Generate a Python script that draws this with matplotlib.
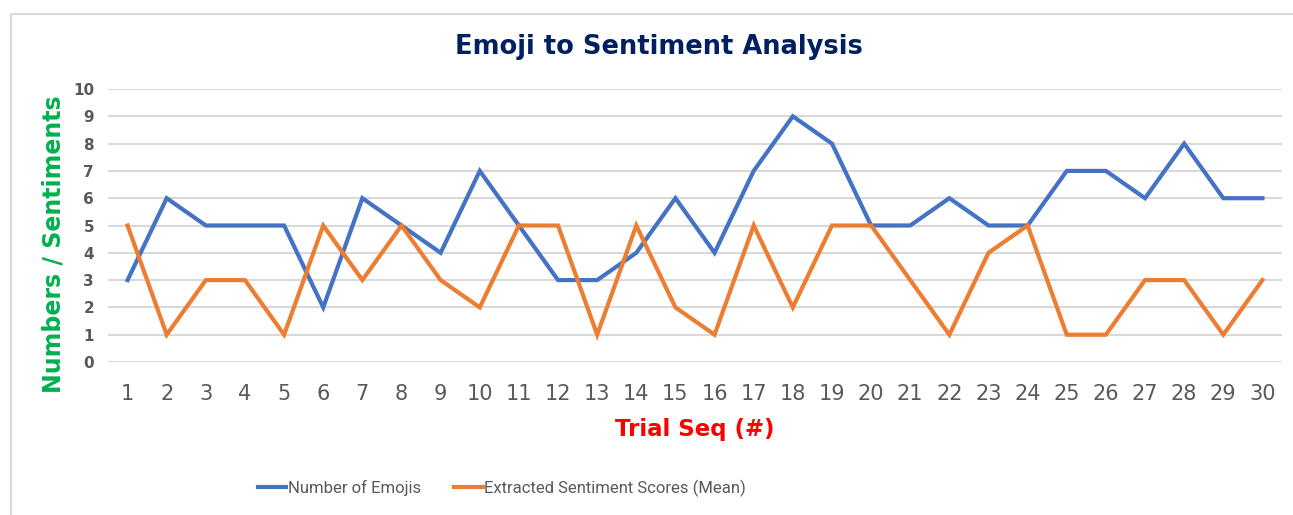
import matplotlib
matplotlib.use('Agg')
import matplotlib.pyplot as plt
from matplotlib.lines import Line2D

# data
trials = list(range(1, 31))
num_emojis = [3, 6, 5, 5, 5, 2, 6, 5, 4, 7, 5, 3, 3, 4, 6, 4, 7, 9, 8, 5,
              5, 6, 5, 5, 7, 7, 6, 8, 6, 6]
sentiment_mean = [5, 1, 3, 3, 1, 5, 3, 5, 3, 2, 5, 5, 1, 5, 2, 1, 5, 2, 5, 5,
                  3, 1, 4, 5, 1, 1, 3, 3, 1, 3]
y_ticks = list(range(0, 11))

blue = '#4472C4'
orange = '#ED7D31'
grid_col = '#D9D9D9'
tick_col = '#595959'

fig = plt.figure(figsize=(12.93, 5.15), dpi=100)
ax = fig.add_axes([108/1293, 1 - 362/515, (1282-108)/1293, (362-89)/515])

# chart border (left and top edges visible)
fig.add_artist(Line2D([11/1293, 11/1293], [0, 1 - 14/515], color=grid_col,
                      lw=1.5, transform=fig.transFigure))
fig.add_artist(Line2D([11/1293, 1], [1 - 14/515, 1 - 14/515], color=grid_col,
                      lw=1.5, transform=fig.transFigure))

ax.plot(trials, num_emojis, color=blue, lw=3, label='Number of Emojis',
        solid_joinstyle='miter', zorder=3)
ax.plot(trials, sentiment_mean, color=orange, lw=3,
        label='Extracted Sentiment Scores (Mean)', solid_joinstyle='miter', zorder=3)

ax.set_xlim(0.5, 30.5)
ax.set_ylim(0, 10)
ax.set_xticks(trials)
ax.set_yticks(y_ticks)
ax.yaxis.grid(True, color=grid_col, lw=1.5)
ax.set_axisbelow(True)
for s in ax.spines.values():
    s.set_visible(False)
ax.tick_params(length=0)
ax.tick_params(axis='x', labelsize=15, labelcolor=tick_col, pad=16)
ax.tick_params(axis='y', labelsize=11, labelcolor=tick_col, pad=10)
for t in ax.get_yticklabels():
    t.set_fontweight('bold')

ax.set_xlabel('Trial Seq (#)', color='#FF0000', fontweight='bold', fontsize=16.5,
              labelpad=10)
ax.set_ylabel('Numbers / Sentiments', color='#00B050', fontweight='bold',
              fontsize=17, va='center')
ax.yaxis.set_label_coords(-0.0464, 0.43)

fig.text(659/1293, 1 - 47/515, 'Emoji to Sentiment Analysis', ha='center',
         va='center', fontsize=18.5, fontweight='bold', color='#002060')

leg = fig.legend(loc='center', bbox_to_anchor=(502/1293, 1 - 488/515), ncol=2,
                 frameon=False, handlelength=1.7, handletextpad=0.1,
                 columnspacing=2.0,
                 prop={'family': 'Roboto', 'size': 12})
for t in leg.get_texts():
    t.set_color(tick_col)

fig.savefig('out.png', dpi=100)
